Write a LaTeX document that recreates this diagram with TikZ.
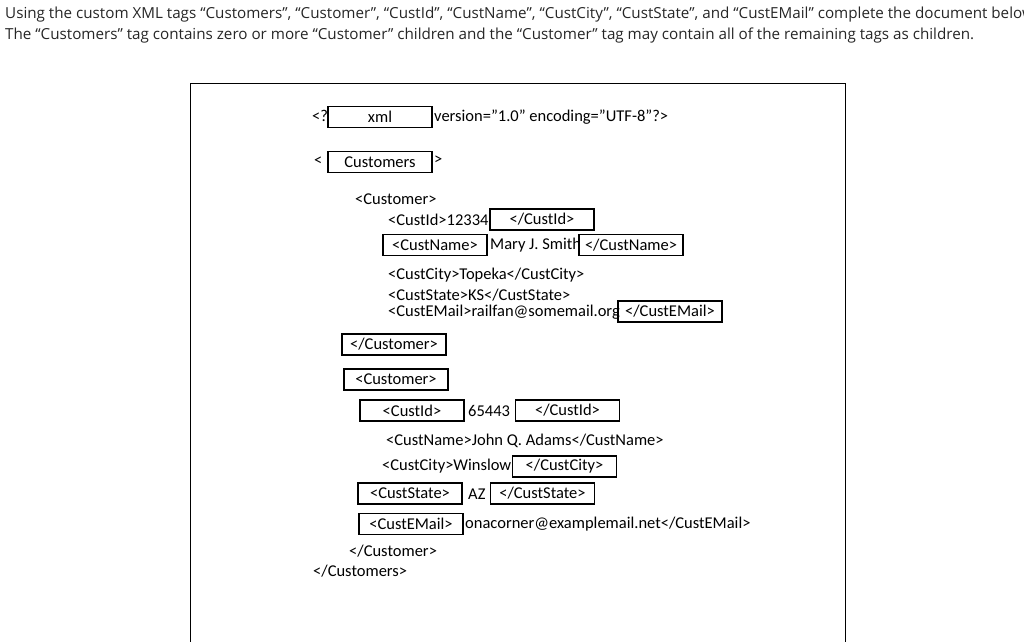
\documentclass[tikz,border=0pt]{standalone}
\usepackage{fontspec}
\setmainfont{Carlito}
\newfontfamily\hdr{Open Sans}
\begin{document}
\begin{tikzpicture}[x=1pt,y=-1pt,
  tagbox/.style={draw,line width=1.1pt,minimum width=104pt,minimum height=21pt,inner sep=0pt,font=\fontsize{16.5}{19}\selectfont},
  txt/.style={anchor=west,inner sep=0pt,font=\fontsize{16.5}{19}\selectfont},
  head/.style={anchor=west,inner sep=0pt,font=\hdr\fontsize{15.2}{17}\selectfont,text=black!85}]
\useasboundingbox (0,0) rectangle (1024,641);
\clip (0,0) rectangle (1024,641);
\node[head] (h1) at (5,15) {Using the custom XML tags “Customers”, “Customer”, “CustId”, “CustName”, “CustCity”, “CustState”, and “CustEMail” complete the document below};
\node[head] (h2) at (5,36) {The “Customers” tag contains zero or more “Customer” children and the “Customer” tag may contain all of the remaining tags as children.};
\draw[line width=0.8pt] (190,645) -- (190,83) -- (845,83) -- (845,645);
% first part
\node[txt] (q) at (312,116) {<?};
\node[tagbox] (xml) at (380,117) {xml};
\node[txt] (ver) at (434,117) {version="1.0" encoding="UTF-8"?>};
\node[txt] (lt) at (314,161) {<};
\node[tagbox] (cs) at (380,162) {Customers};
\node[txt] (gt) at (434,160) {>};
\node[txt] (c1) at (355,199) {<Customer>};
\node[txt] (id1) at (388,220) {<CustId>12334};
\node[tagbox] (id1e) at (542,219.5) {</CustId>};
\node[tagbox] (nm1) at (435,245) {<CustName>};
\node[txt] (nm1v) at (490,245) {Mary J. Smith};
\node[tagbox] (nm1e) at (631,245) {</CustName>};
\node[txt] (ct1) at (388,275) {<CustCity>Topeka</CustCity>};
\node[txt] (st1) at (388,295) {<CustState>KS</CustState>};
\node[txt] (em1) at (388,312) {<CustEMail>railfan@somemail.org};
\node[tagbox] (em1e) at (670,311.5) {</CustEMail>};
\node[tagbox] (c1e) at (394,344.5) {</Customer>};
% second
\node[tagbox] (c2) at (396,379.5) {<Customer>};
\node[tagbox] (id2) at (412,410.5) {<CustId>};
\node[txt] (id2v) at (468,411) {65443};
\node[tagbox] (id2e) at (567.5,410.5) {</CustId>};
\node[txt] (nm2) at (386,441) {<CustName>John Q. Adams</CustName>};
\node[txt] (ct2) at (382,466) {<CustCity>Winslow};
\node[tagbox] (ct2e) at (564.5,466.5) {</CustCity>};
\node[tagbox] (st2) at (410,493.5) {<CustState>};
\node[txt] (st2v) at (468,494) {AZ};
\node[tagbox] (st2e) at (542.5,493.5) {</CustState>};
\node[tagbox] (em2) at (411,524) {<CustEMail>};
\node[txt] (em2v) at (465,524) {onacorner@examplemail.net</CustEMail>};
\node[txt] (c2e) at (349,551) {</Customer>};
\node[txt] (cse) at (313,571) {</Customers>};
\end{tikzpicture}
\end{document}
